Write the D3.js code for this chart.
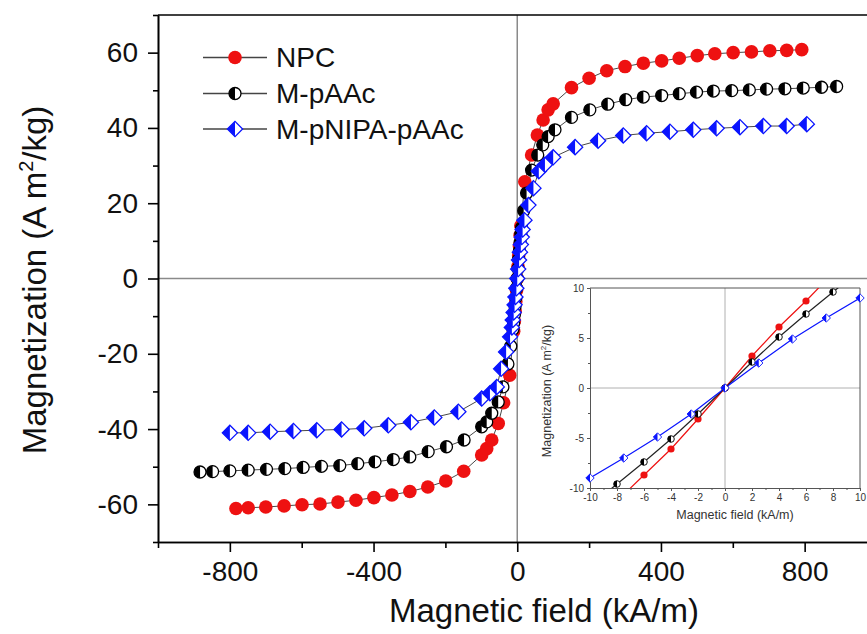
<!DOCTYPE html>
<html>
<head>
<meta charset="utf-8">
<script src="https://cdn.jsdelivr.net/npm/d3@7"></script>
<style>
  html, body { margin: 0; padding: 0; background: #fff; }
  svg { display: block; font-family: "Liberation Sans", Arial, sans-serif; }
</style>
</head>
<body>
<svg id="chart" width="867" height="634"></svg>
<script>
// ---------------- data ----------------
const seriesNames = ["NPC", "M-pAAc", "M-pNIPA-pAAc"];

const npcH = [-783,-749,-700,-649,-599,-549,-499,-449,-399,-349,-299,-249,-199,-149,-99,-85,-71,-53,-38,-21,-10,-8,-6,-4,-2,0,2,4,6,8,10,21,40,56,72,86,100,151,200,249,300,351,402,451,501,550,601,652,703,750,792];
const npcM = [-61.1,-60.9,-60.7,-60.4,-60.1,-59.9,-59.4,-58.9,-58.2,-57.5,-56.6,-55.4,-53.8,-51.2,-46.9,-45.2,-42.9,-38.5,-33.0,-25.7,-14.0,-11.3,-8.7,-6.1,-3.1,0,3.2,6.1,8.7,11.5,14.0,25.7,32.8,38.1,42.1,44.8,46.4,50.7,53.2,55.2,56.3,57.2,57.8,58.5,59.2,59.7,60.0,60.2,60.5,60.6,60.8];

const paacH = [-883,-848,-800,-749,-698,-647,-596,-545,-494,-444,-396,-345,-299,-248,-197,-148,-99,-85,-71,-53,-40,-26,-18,-12,-10,-8,-6,-4,-2,0,2,4,6,8,10,12,18,26,40,57,71,86,105,151,202,252,302,351,402,451,499,546,597,646,694,745,796,847,889];
const paacM = [-51.4,-51.3,-51.1,-50.9,-50.7,-50.5,-50.2,-49.9,-49.7,-49.2,-48.7,-48.1,-47.4,-46.0,-44.7,-42.9,-39.4,-38.1,-35.8,-32.8,-28.8,-22.7,-18.0,-13.5,-11.8,-9.6,-7.4,-5.1,-2.6,0,2.6,5.1,7.4,9.6,11.8,13.5,18.0,22.7,28.8,32.8,35.5,37.7,39.5,42.8,44.8,46.3,47.5,48.2,48.6,49.1,49.5,49.8,49.9,50.1,50.3,50.4,50.6,50.8,51.0];

const nipaH = [-800,-749,-688,-623,-558,-489,-426,-359,-296,-231,-164,-99,-76,-57,-45,-31,-20,-15,-12.5,-10,-7.5,-5,-2.5,0,2.5,5,7.5,10,12.5,15,20,31,45,60,77,100,161,225,295,360,425,490,555,620,685,750,806];
const nipaM = [-41.0,-41.0,-40.7,-40.5,-40.3,-40.1,-39.8,-39.0,-38.2,-36.9,-35.4,-31.9,-30.5,-28.8,-24.0,-19.5,-15.5,-13.0,-11.0,-9.0,-7.0,-4.9,-2.6,0,2.5,4.9,7.0,9.0,11.0,13.0,15.5,19.5,24.0,28.5,30.2,32.2,34.9,36.6,38.0,38.6,39.0,39.5,39.9,40.2,40.5,40.5,41.0];

const xMajorTicks = [-800,-400,0,400,800];
const xMinorTicks = [-1000,-600,-200,200,600,1000];
const yMajorTicks = [-60,-40,-20,0,20,40,60];
const yMinorTicks = [-70,-50,-30,-10,10,30,50,70];
const inXTicks = [-10,-8,-6,-4,-2,0,2,4,6,8,10];
const inXMinor = [-9,-7,-5,-3,-1,1,3,5,7,9];
const inYTicks = [-10,-5,0,5,10];
const inYMinor = [-7.5,-2.5,2.5,7.5];

// ---------------- setup ----------------
const RED = "#ee1111", BLUE = "#0a14ff", BLACK = "#000";
const series = [
  {name: seriesNames[0], H: npcH, M: npcM, type: "circle", color: RED},
  {name: seriesNames[1], H: paacH, M: paacM, type: "half", color: BLACK},
  {name: seriesNames[2], H: nipaH, M: nipaM, type: "diamond", color: BLUE}
];
const fmt = d => String(d);   // plain hyphen-minus like the original

const svg = d3.select("#chart");
const x = d3.scaleLinear().domain([-1000, 1000]).range([158, 876.5]);
const y = d3.scaleLinear().domain([-70, 70]).range([542, 15]);

function drawMarker(g, type, cx, cy, s, color, sw) {
  if (type === "circle") {
    g.append("circle").attr("cx", cx).attr("cy", cy).attr("r", s).attr("fill", color);
  } else if (type === "half") {
    g.append("circle").attr("cx", cx).attr("cy", cy).attr("r", s)
      .attr("fill", "#fff").attr("stroke", color).attr("stroke-width", sw);
    g.append("path").attr("d", `M${cx},${cy - s} A${s},${s} 0 0 0 ${cx},${cy + s} Z`).attr("fill", color);
  } else {
    g.append("path").attr("d", `M${cx - s},${cy} L${cx},${cy - s} L${cx + s},${cy} L${cx},${cy + s} Z`)
      .attr("fill", "#fff").attr("stroke", color).attr("stroke-width", sw).attr("stroke-linejoin", "miter");
    g.append("path").attr("d", `M${cx},${cy - s} L${cx - s},${cy} L${cx},${cy + s} Z`).attr("fill", color);
  }
}

// zero lines
svg.append("line").attr("x1", x(0)).attr("x2", x(0)).attr("y1", y(70)).attr("y2", y(-70))
  .attr("stroke", "#8a8a8a").attr("stroke-width", 1.5);
svg.append("line").attr("x1", x(-1000)).attr("x2", x(1000)).attr("y1", y(0)).attr("y2", y(0))
  .attr("stroke", "#8a8a8a").attr("stroke-width", 1.5);

// axes
function styleAxis(g, w) {
  g.selectAll("path.domain").attr("stroke", "#000").attr("stroke-width", w);
  g.selectAll(".tick line").attr("stroke", "#000").attr("stroke-width", w);
  g.selectAll(".tick text").attr("fill", "#111").attr("font-size", 28)
    .attr("font-family", "'Liberation Sans', Arial, sans-serif");
}
const gx = svg.append("g").attr("transform", `translate(0,${y(-70)})`)
  .call(d3.axisBottom(x).tickValues(xMajorTicks).tickSize(10).tickSizeOuter(0).tickPadding(9).tickFormat(fmt));
styleAxis(gx, 1.6);
const gxm = svg.append("g").attr("transform", `translate(0,${y(-70)})`)
  .call(d3.axisBottom(x).tickValues(xMinorTicks).tickSize(6).tickSizeOuter(0).tickFormat(""));
styleAxis(gxm, 1.6);
const gy = svg.append("g").attr("transform", `translate(${x(-1000)},0)`)
  .call(d3.axisLeft(y).tickValues(yMajorTicks).tickSize(10).tickSizeOuter(0).tickPadding(10).tickFormat(fmt));
styleAxis(gy, 1.6);
const gym = svg.append("g").attr("transform", `translate(${x(-1000)},0)`)
  .call(d3.axisLeft(y).tickValues(yMinorTicks).tickSize(5).tickSizeOuter(0).tickFormat(""));
styleAxis(gym, 1.6);
// top frame
svg.append("line").attr("x1", x(-1000)).attr("x2", x(1000)).attr("y1", y(70)).attr("y2", y(70))
  .attr("stroke", "#000").attr("stroke-width", 1.6);

// axis titles
svg.append("text").attr("x", 544).attr("y", 622).attr("text-anchor", "middle")
  .attr("font-size", 33).attr("fill", "#111").text("Magnetic field (kA/m)");
const yt = svg.append("text").attr("transform", "translate(46,280) rotate(-90)")
  .attr("text-anchor", "middle").attr("font-size", 33).attr("fill", "#111");
yt.append("tspan").text("Magnetization (A m");
yt.append("tspan").attr("font-size", 20).attr("dy", -13).text("2");
yt.append("tspan").attr("dy", 13).text("/kg)");

// main series
const line = d3.line().x(d => x(d[0])).y(d => y(d[1]));
const mainSizes = {circle: 6.8, half: 6.0, diamond: 7.6};
series.forEach(s => {
  const pts = s.H.map((h, i) => [h, s.M[i]]);
  svg.append("path").attr("d", line(pts)).attr("fill", "none")
    .attr("stroke", "#333").attr("stroke-width", 0.9);
});
series.forEach(s => {
  const g = svg.append("g");
  s.H.forEach((h, i) => drawMarker(g, s.type, x(h), y(s.M[i]), mainSizes[s.type], s.color, 1.3));
});

// legend
const legRows = [57.5, 93.5, 129];
series.forEach((s, i) => {
  const ly = legRows[i];
  svg.append("line").attr("x1", 203).attr("x2", 267).attr("y1", ly).attr("y2", ly)
    .attr("stroke", "#444").attr("stroke-width", 1.3);
  const g = svg.append("g");
  drawMarker(g, s.type, 235, ly, mainSizes[s.type], s.color, 1.3);
  svg.append("text").attr("x", 276).attr("y", ly + 9.5).attr("font-size", 28).attr("fill", "#111").text(s.name);
});

// ---------------- inset ----------------
const xi = d3.scaleLinear().domain([-10, 10]).range([590, 860]);
const yi = d3.scaleLinear().domain([-10, 10]).range([488, 288]);
svg.append("rect").attr("x", 530).attr("y", 284).attr("width", 337).attr("height", 242).attr("fill", "#fff");
svg.append("clipPath").attr("id", "inclip").append("rect")
  .attr("x", xi(-10)).attr("y", yi(10)).attr("width", xi(10) - xi(-10)).attr("height", yi(-10) - yi(10));

// inset zero lines
svg.append("line").attr("x1", xi(0)).attr("x2", xi(0)).attr("y1", yi(10)).attr("y2", yi(-10))
  .attr("stroke", "#b0b0b0").attr("stroke-width", 1);
svg.append("line").attr("x1", xi(-10)).attr("x2", xi(10)).attr("y1", yi(0)).attr("y2", yi(0))
  .attr("stroke", "#b0b0b0").attr("stroke-width", 1);

function styleInset(g) {
  g.selectAll("path.domain").attr("stroke", "#555").attr("stroke-width", 1);
  g.selectAll(".tick line").attr("stroke", "#555").attr("stroke-width", 1);
  g.selectAll(".tick text").attr("fill", "#333").attr("font-size", 10)
    .attr("font-family", "'Liberation Sans', Arial, sans-serif");
}
const ix = svg.append("g").attr("transform", `translate(0,${yi(-10)})`)
  .call(d3.axisBottom(xi).tickValues(inXTicks).tickSize(3).tickSizeOuter(0).tickPadding(3).tickFormat(fmt));
styleInset(ix);
const ixm = svg.append("g").attr("transform", `translate(0,${yi(-10)})`)
  .call(d3.axisBottom(xi).tickValues(inXMinor).tickSize(2).tickSizeOuter(0).tickFormat(""));
styleInset(ixm);
const iy = svg.append("g").attr("transform", `translate(${xi(-10)},0)`)
  .call(d3.axisLeft(yi).tickValues(inYTicks).tickSize(3).tickSizeOuter(0).tickPadding(3).tickFormat(fmt));
styleInset(iy);
const iym = svg.append("g").attr("transform", `translate(${xi(-10)},0)`)
  .call(d3.axisLeft(yi).tickValues(inYMinor).tickSize(2).tickSizeOuter(0).tickFormat(""));
styleInset(iym);
svg.append("line").attr("x1", xi(-10)).attr("x2", xi(10)).attr("y1", yi(10)).attr("y2", yi(10))
  .attr("stroke", "#555").attr("stroke-width", 1);
svg.append("line").attr("x1", xi(10)).attr("x2", xi(10)).attr("y1", yi(10)).attr("y2", yi(-10))
  .attr("stroke", "#555").attr("stroke-width", 1);

svg.append("text").attr("x", 735).attr("y", 519).attr("text-anchor", "middle")
  .attr("font-size", 12.5).attr("fill", "#333").text("Magnetic field (kA/m)");
const iyt = svg.append("text").attr("transform", "translate(551,391) rotate(-90)")
  .attr("text-anchor", "middle").attr("font-size", 12.5).attr("fill", "#333");
iyt.append("tspan").text("Magnetization (A m");
iyt.append("tspan").attr("font-size", 8).attr("dy", -5).text("2");
iyt.append("tspan").attr("dy", 5).text("/kg)");

const lineIn = d3.line().x(d => xi(d[0])).y(d => yi(d[1]));
const inSizes = {circle: 3.6, half: 3.3, diamond: 4.2};
const inLineColors = [RED, "#222", BLUE];
series.forEach((s, k) => {
  const pts = s.H.map((h, i) => [h, s.M[i]]).filter(p => Math.abs(p[0]) <= 30);
  svg.append("path").attr("d", lineIn(pts)).attr("fill", "none").attr("clip-path", "url(#inclip)")
    .attr("stroke", inLineColors[k]).attr("stroke-width", 1.2);
});
series.forEach(s => {
  const g = svg.append("g");
  s.H.forEach((h, i) => {
    if (Math.abs(h) <= 10 && Math.abs(s.M[i]) <= 10)
      drawMarker(g, s.type, xi(h), yi(s.M[i]), inSizes[s.type], s.color, 0.9);
  });
});
</script>
</body>
</html>
